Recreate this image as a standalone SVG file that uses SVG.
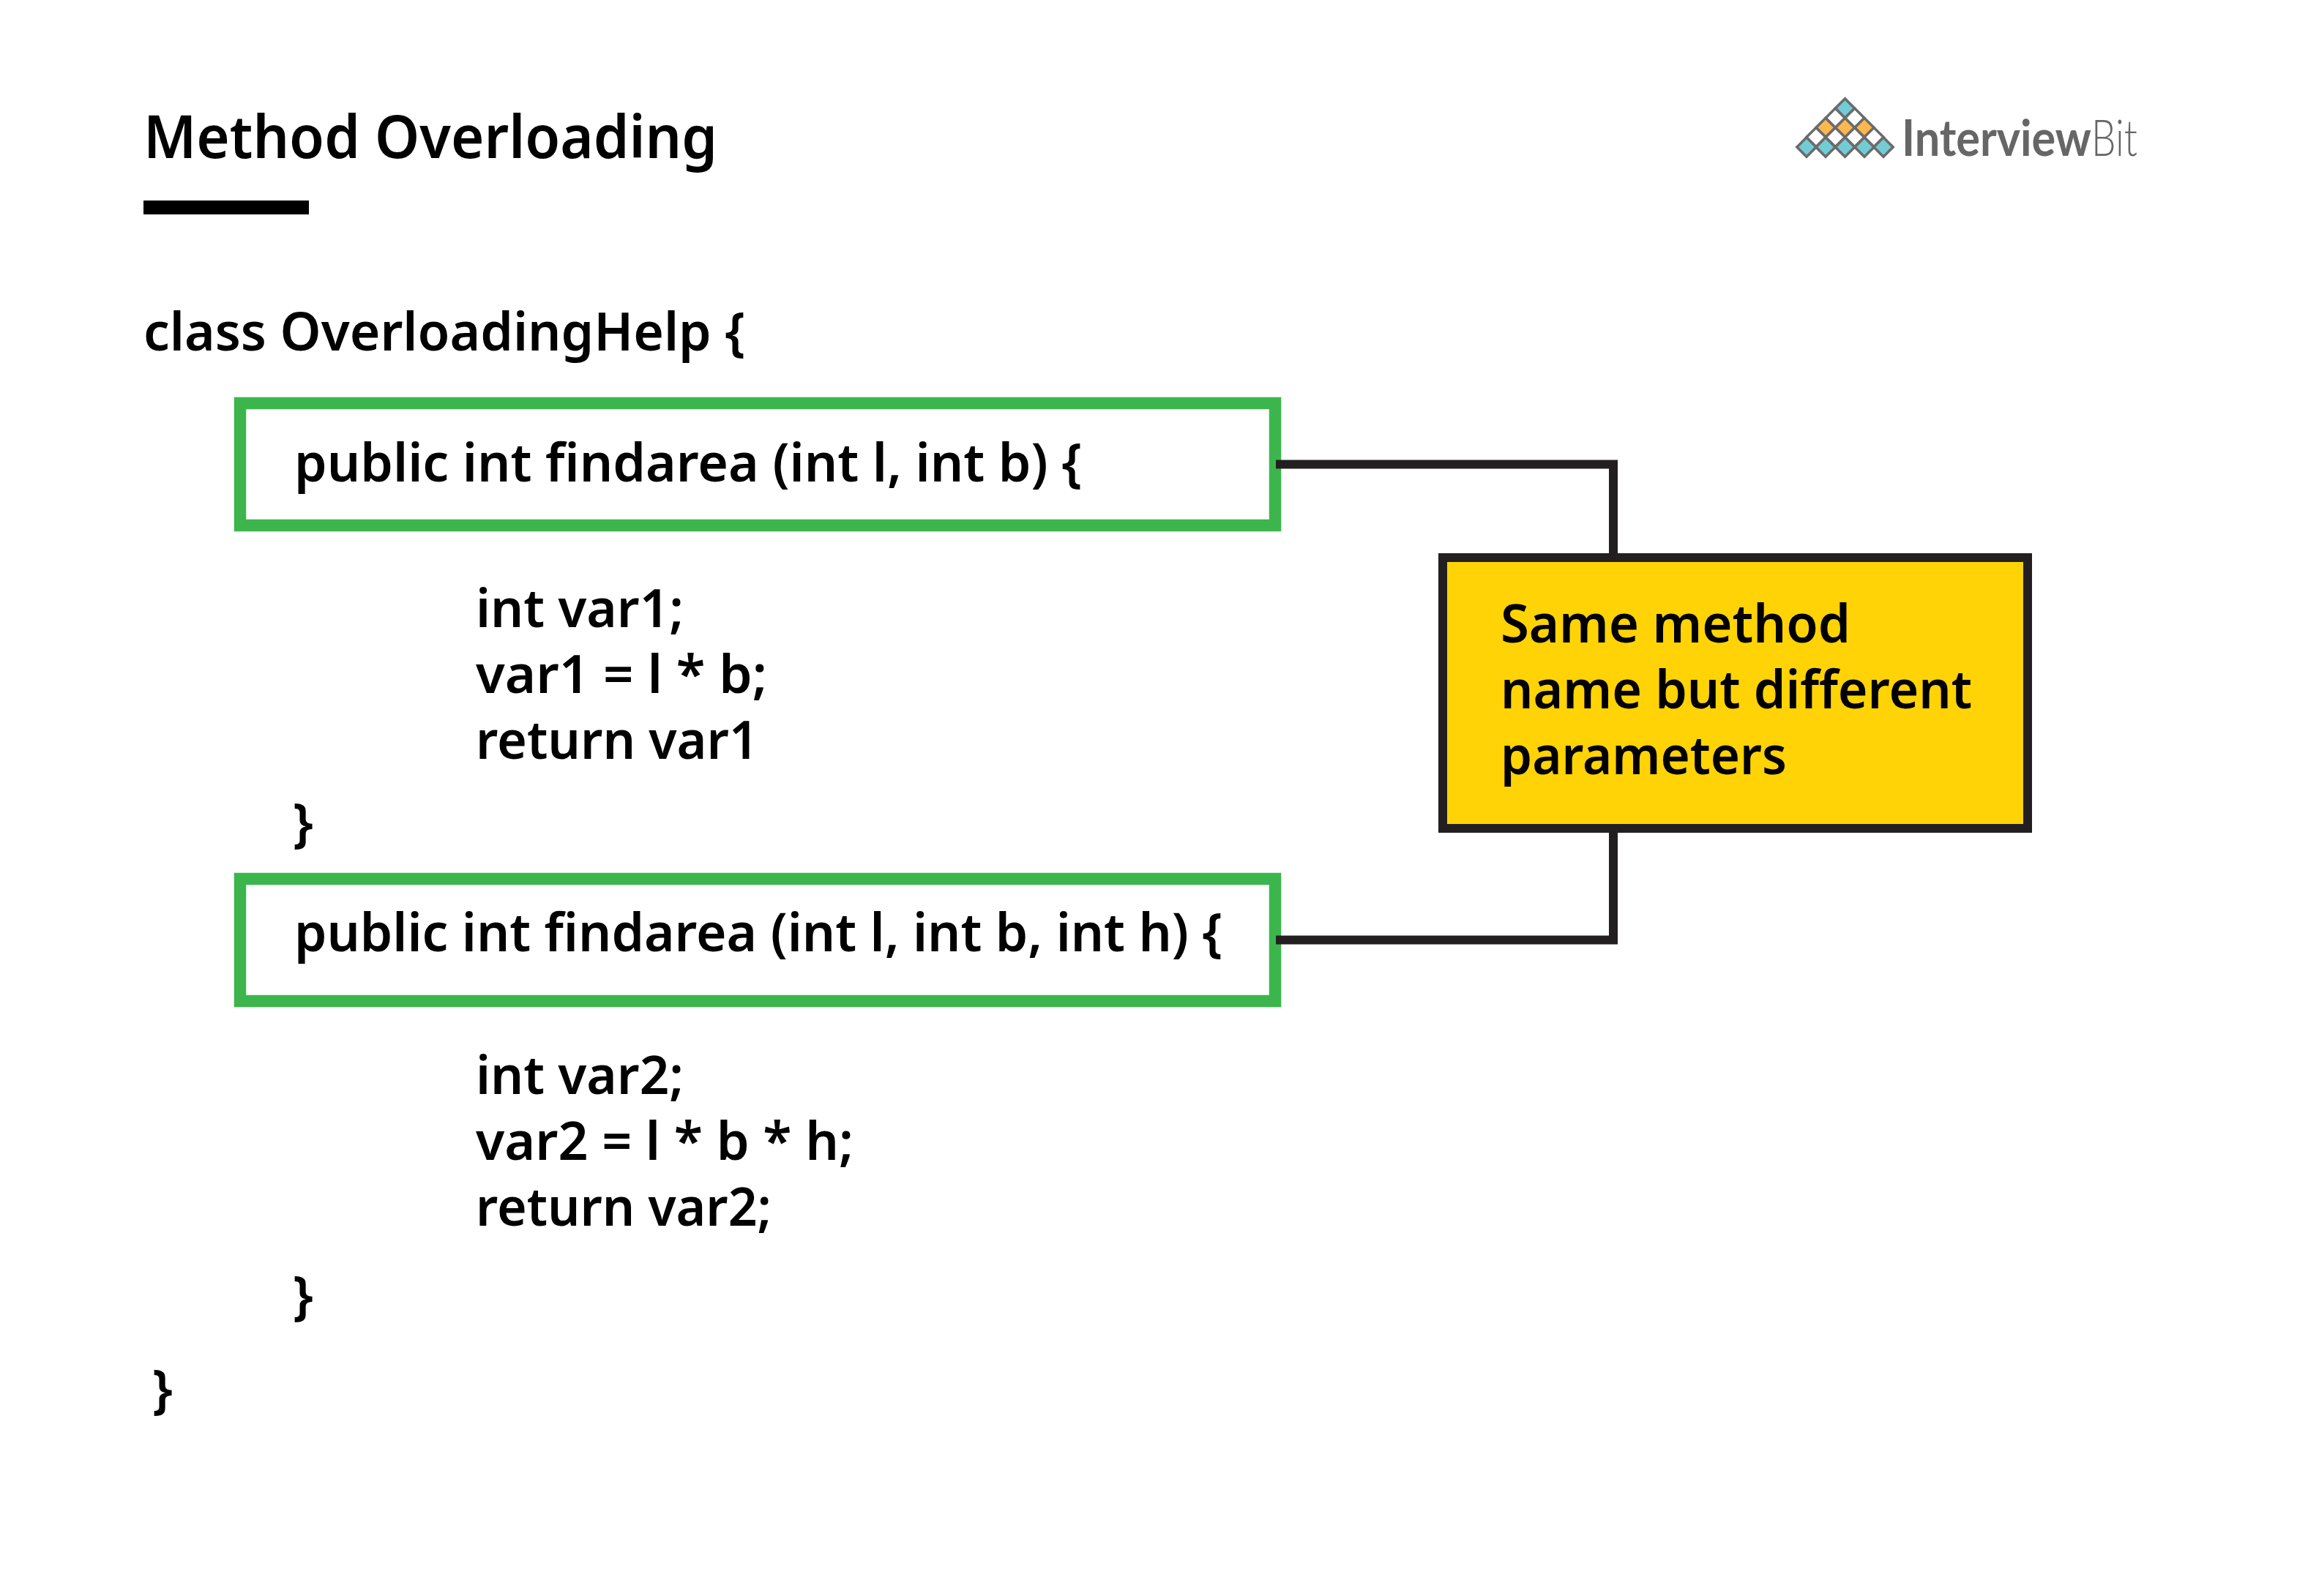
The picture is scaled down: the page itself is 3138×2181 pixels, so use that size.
<svg xmlns="http://www.w3.org/2000/svg" width="3138" height="2181" viewBox="0 0 3138 2181">
<style>
text{font-family:"Noto Sans","Open Sans",sans-serif;font-weight:600;fill:#000}
.c{font-size:72px}
.g{fill:#fff;stroke:#3cb64c;stroke-width:16.5}
.d{stroke:#6b6b6b;stroke-width:3.5}
.t{fill:#72ccd6}.o{fill:#fdb84d}.w{fill:#fff}
.k{fill:none;stroke:#231f20;stroke-width:12}
</style>
<defs><polygon id="dm" points="0,-13.2 13.2,0 0,13.2 -13.2,0"/></defs>
<rect width="3138" height="2181" fill="#fff"/>
<g id="title"><text x="196" y="216" style="font-size:81px" textLength="784" lengthAdjust="spacingAndGlyphs">Method Overloading</text><rect x="196" y="274" width="226" height="19" fill="#000"/></g>
<g id="logo">
<use href="#dm" class="d t" x="2520.5" y="148"/>
<use href="#dm" class="d w" x="2507.3" y="161.2"/><use href="#dm" class="d w" x="2533.7" y="161.2"/>
<use href="#dm" class="d o" x="2494" y="174.4"/><use href="#dm" class="d o" x="2520.5" y="174.4"/><use href="#dm" class="d o" x="2547" y="174.4"/>
<use href="#dm" class="d w" x="2481" y="187.6"/><use href="#dm" class="d w" x="2507.3" y="187.6"/><use href="#dm" class="d w" x="2533.7" y="187.6"/><use href="#dm" class="d w" x="2560" y="187.6"/>
<use href="#dm" class="d t" x="2468" y="201"/><use href="#dm" class="d t" x="2494" y="201"/><use href="#dm" class="d t" x="2520.5" y="201"/><use href="#dm" class="d t" x="2547" y="201"/><use href="#dm" class="d t" x="2573" y="201"/>
<text transform="translate(2598 213) scale(.9 1)" style="font-size:68px;font-family:Lato,sans-serif;fill:#666;font-weight:700">Interview</text>
<text transform="translate(2857 213) scale(.78 1)" style="font-size:68px;font-family:Lato,sans-serif;fill:#666;font-weight:300">Bit</text>
</g>
<g id="code">
<text class="c" x="196" y="479" textLength="822" lengthAdjust="spacingAndGlyphs">class OverloadingHelp {</text>
<text class="c" x="650" y="857" textLength="284" lengthAdjust="spacingAndGlyphs">int var1;</text>
<text class="c" x="650" y="947" textLength="398" lengthAdjust="spacingAndGlyphs">var1 = l * b;</text>
<text class="c" x="650" y="1037" textLength="386" lengthAdjust="spacingAndGlyphs">return var1</text>
<text class="c" x="400" y="1150">}</text>
<text class="c" x="650" y="1495" textLength="284" lengthAdjust="spacingAndGlyphs">int var2;</text>
<text class="c" x="650" y="1585" textLength="516" lengthAdjust="spacingAndGlyphs">var2 = l * b * h;</text>
<text class="c" x="650" y="1675" textLength="404" lengthAdjust="spacingAndGlyphs">return var2;</text>
<text class="c" x="400" y="1796">}</text>
<text class="c" x="208" y="1924">}</text>
</g>
<g id="box1"><rect class="g" x="328" y="551" width="1414" height="167"/><text class="c" x="402" y="658" textLength="1076" lengthAdjust="spacingAndGlyphs">public int findarea  (int l, int b) {</text></g>
<g id="box2"><rect class="g" x="328" y="1201" width="1414" height="167"/><text class="c" x="402" y="1300" textLength="1268" lengthAdjust="spacingAndGlyphs">public int findarea (int l, int b, int h) {</text></g>
<g id="connectors">
<path class="k" d="M1743 634.5H2204V760"/>
<path class="k" d="M1743 1284.5H2204V1135"/>
</g>
<g id="note"><rect x="1971" y="762" width="799" height="370" fill="#ffd305" stroke="#231f20" stroke-width="12"/>
<text class="c" x="2050" y="878" textLength="478" lengthAdjust="spacingAndGlyphs">Same method</text>
<text class="c" x="2050" y="968" textLength="644" lengthAdjust="spacingAndGlyphs">name but different</text>
<text class="c" x="2050" y="1058" textLength="391" lengthAdjust="spacingAndGlyphs">parameters</text></g>
</svg>
